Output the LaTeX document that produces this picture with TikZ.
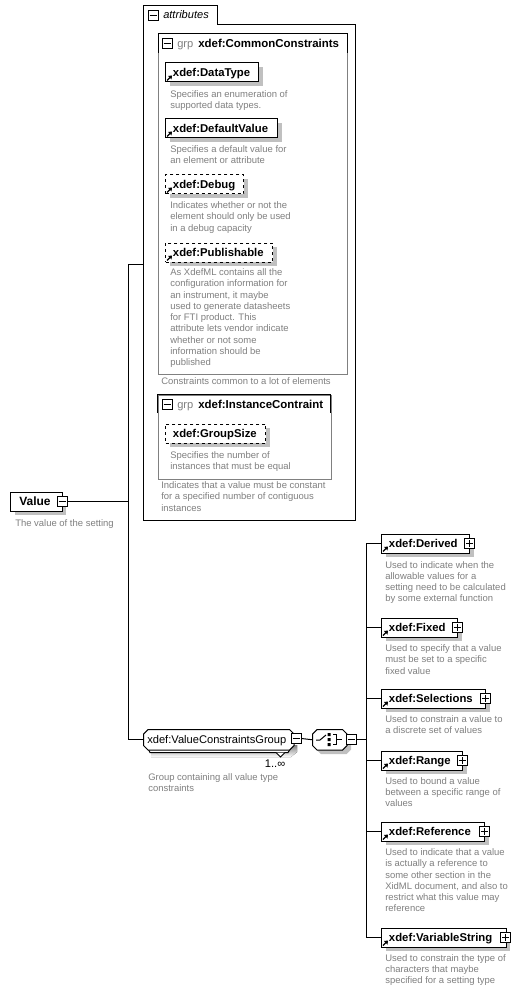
\documentclass[tikz,border=0pt]{standalone}
\usepackage{fontspec}
\setmainfont{Liberation Sans}
\usetikzlibrary{shadows}
\definecolor{shade}{HTML}{C0C0C0}
\definecolor{note}{HTML}{808080}
\tikzset{
  line/.style={draw=black,line width=0.75pt},
  elem/.style={line,fill=white,anchor=north west,minimum height=14.25pt,inner xsep=5.6pt,inner ysep=0pt,align=left,
    text height=5.6pt,text depth=0pt,
    font=\fontsize{8.5pt}{10pt}\bfseries,general shadow={fill=shade,shadow xshift=3pt,shadow yshift=-3pt}},
  opt/.style={elem,dash pattern=on 2.25pt off 2.25pt},
  desc/.style={anchor=north west,inner sep=0pt,align=left,text=note,font=\fontsize{7.1pt}{8.45pt}\selectfont},
  toggle/.style={line,fill=white,minimum size=7.5pt,inner sep=0pt,anchor=center},
  grey/.style={draw=note,line width=0.75pt},
  capline/.style={draw=black,line width=0.75pt},
  grptxt/.style={anchor=base west,inner sep=0pt,font=\fontsize{8.35pt}{10pt}\selectfont},
  slot/.style={anchor=north west,inner sep=0pt,minimum height=15pt},
}
\newcommand{\elbox}[6][elem]{\node[#1,text width={(#5-15)*0.75pt}] (#2) at (#3,#4) {#6};}
\newcommand{\refmark}[1]{\begin{scope}[shift={(#1.south west)}]
  \draw[black,line width=0.9pt] (2,-2) -- (6,-6);
  \fill[black] (7,-7) -- (3,-6.5) -- (6.5,-3) -- cycle;
  \end{scope}}
\newcommand{\mtog}[3]{\node[toggle] (#1) at (#2,#3) {}; \draw[black,line width=0.75pt] ([xshift=1.5pt]#1.west) -- ([xshift=-1.5pt]#1.east);}
\newcommand{\ptog}[3]{\mtog{#1}{#2}{#3}\draw[black,line width=0.75pt] ([yshift=-1.5pt]#1.north) -- ([yshift=1.5pt]#1.south);}
\newcommand{\chamf}[2][]{\draw[line,fill=white,#1] ([xshift=3.4pt]#2.north west) -- ([xshift=-3.4pt]#2.north east) -- ([yshift=-3.4pt]#2.north east) -- ([yshift=3.4pt]#2.south east) -- ([xshift=-3.4pt]#2.south east) -- ([xshift=3.4pt]#2.south west) -- ([yshift=3.4pt]#2.south west) -- ([yshift=-3.4pt]#2.north west) -- cycle;}
\begin{document}
\begin{tikzpicture}[x=0.75pt,y=-0.75pt]
\useasboundingbox[fill=white] (0,0) rectangle (520,991);

% attributes container
\draw[line,fill=white] (143.5,520.5) -- (143.5,5.5) -- (217.5,5.5) -- (217.5,24.5) -- (355.5,24.5) -- (355.5,520.5) -- cycle;
\mtog{atog}{153}{16}
\node[grptxt,font=\fontsize{8.3pt}{10pt}\itshape] (atxt) at (163,19) {attributes};
\coordinate (attrin) at (143.5,264.5);

% group CommonConstraints
\node[grey,anchor=north west,minimum width=141.75pt,minimum height=255pt,inner sep=0pt] (g1) at (158,33.5) {};
\draw[capline] (158,53) -- (158,33.5) -- (347,33.5) -- (347,53);
\mtog{g1tog}{167}{43.5}
\node[grptxt,text=note] (g1a) at (177,47.5) {grp};
\node[grptxt,font=\fontsize{8.6pt}{10pt}\bfseries] (g1b) at (198,47.5) {xdef:CommonConstraints};

\elbox{dt}{165}{62.5}{93.5}{xdef:DataType}
\refmark{dt}
\node[desc] (dtd) at (170,90) {Specifies an enumeration of\\supported data types.};
\elbox{dv}{165}{118.5}{112.5}{xdef:DefaultValue}
\refmark{dv}
\node[desc] (dvd) at (170,145.5) {Specifies a default value for\\an element or attribute};
\elbox[opt]{db}{165}{174.5}{78.5}{xdef:Debug}
\refmark{db}
\node[desc] (dbd) at (170,201.5) {Indicates whether or not the\\element should only be used\\in a debug capacity};
\elbox[opt]{pb}{165}{242.5}{107.5}{xdef:Publishable}
\refmark{pb}
\node[desc] (pbd) at (170,268.5) {As XdefML contains all the\\configuration information for\\an instrument, it maybe\\used to generate datasheets\\for FTI product.  This\\attribute lets vendor indicate\\whether or not some\\information should be\\published};
\node[desc] (g1d) at (161,377.5) {Constraints common to a lot of elements};

% group InstanceContraint
\node[grey,anchor=north west,minimum width=129.75pt,minimum height=63pt,inner sep=0pt] (g2) at (157.5,394.5) {};
\draw[capline] (157.5,413) -- (157.5,394.5) -- (330.5,394.5) -- (330.5,413);
\mtog{g2tog}{167}{404}
\node[grptxt,text=note] (g2a) at (177,408.3) {grp};
\node[grptxt,font=\fontsize{8.6pt}{10pt}\bfseries] (g2b) at (198,408.3) {xdef:InstanceContraint};
\elbox[opt]{gs}{165}{423.5}{100.5}{xdef:GroupSize}
\node[desc] (gsd) at (170,451.5) {Specifies the number of\\instances that must be equal};
\node[desc] (g2d) at (161,481.5) {Indicates that a value must be constant\\for a specified number of contiguous\\instances};

% root
\elbox{val}{10}{491.5}{52}{\hspace*{1pt}\fontsize{9pt}{10pt}\selectfont Value}
\mtog{valtog}{62}{501.5}
\node[desc] (vald) at (15,519) {The value of the setting};
\coordinate (j1) at (128.5,501.5);

% value constraints group
\fill[shade] (151,745) -- (297,745) -- (297,752) -- (291,757) -- (151,757) -- cycle;
\draw[line,fill=white] (146,745) -- (150,752.5) -- (288,752.5) -- (293,745) -- cycle;
\node[slot,minimum width=112.5pt] (vcg) at (143.5,729.5) {};
\chamf{vcg}
\node[grptxt] (vcgt) at (147,743) {xdef:ValueConstraintsGroup};
\draw[line,fill=white] (276,752.5) -- (280.5,757) -- (285,752.5);
\mtog{vcgtog}{296}{738.5}
\node[grptxt,anchor=base east] (occ) at (285.5,767) {1..∞};
\node[desc] (vcgd) at (148,773) {Group containing all value type\\constraints};

% choice compositor
\node[slot,minimum width=25.5pt] (ch) at (312.5,729.5) {};
\chamf[general shadow={fill=shade,shadow xshift=3pt,shadow yshift=-3pt}]{ch}
\draw[black,line width=0.75pt] (316,740) -- (320,740) -- (326,735);
\fill[black] (327.5,733) rectangle (330.5,736) (327.5,738) rectangle (330.5,741) (327.5,743) rectangle (330.5,746);
\draw[black,line width=0.75pt] (333,734.5) -- (336.5,734.5) -- (336.5,744.5) -- (333,744.5) (336.5,739.5) -- (342,739.5);
\mtog{chtog}{351}{739.5}
\coordinate (j2) at (366.5,739.5);

% children
\elbox{de}{381}{533.5}{88.5}{xdef:Derived}
\refmark{de}
\ptog{detog}{469.5}{543.5}
\node[desc] (ded) at (385,561) {Used to indicate when the\\allowable values for a\\setting need to be calculated\\by some external function};
\elbox{fi}{381}{617.5}{76.5}{xdef:Fixed}
\refmark{fi}
\ptog{fitog}{457}{627.5}
\node[desc] (fid) at (385,644.5) {Used to specify that a value\\must be set to a specific\\fixed value};
\elbox{se}{381}{688.5}{104.5}{xdef:Selections}
\refmark{se}
\ptog{setog}{485}{698.5}
\node[desc] (sed) at (385,715.5) {Used to constrain a value to\\a discrete set of values};
\elbox{ra}{381}{750.5}{81.5}{xdef:Range}
\refmark{ra}
\ptog{ratog}{462}{760.5}
\node[desc] (rad) at (385,777) {Used to bound a value\\between a specific range of\\values};
\elbox{re}{381}{821.5}{103.5}{xdef:Reference}
\refmark{re}
\ptog{retog}{484}{831.5}
\node[desc] (red) at (385,848.5) {Used to indicate that a value\\is actually a reference to\\some other section in the\\XidML document, and also to\\restrict what this value may\\reference};
\elbox{vs}{381}{927.5}{125}{xdef:VariableString}
\refmark{vs}
\ptog{vstog}{505.5}{937.5}
\node[desc] (vsd) at (385,954) {Used to constrain the type of\\characters that maybe\\specified for a setting type};

% connectors
\draw[line] (valtog.east) -- (j1);
\draw[line] (attrin) -| (j1);
\draw[line] (vcg.west) -| (j1);
\draw[line] (vcgtog.east) -- (ch.west);
\draw[line] (chtog.east) -- (j2);
\foreach \n in {de,fi,se,ra,re,vs} \draw[line] (\n.west) -| (j2);
\end{tikzpicture}
\end{document}
